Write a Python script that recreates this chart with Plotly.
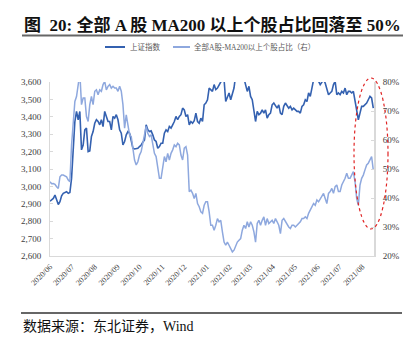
import pandas as pd
import plotly.graph_objects as go

# 上证指数 (left axis), sampled about every 2.3 days, 2020/06 -> 2021/08
sh_index_part1 = [
    2915, 2921, 2931, 2950, 2921, 2896, 2912, 2946, 2960, 2965,
    2969, 2960, 2965, 3046, 3238, 3373, 3431, 3383, 3431, 3210,
    3238, 3325, 3335, 3200, 3204, 3287, 3315, 3363, 3383, 3373,
    3354, 3383, 3344, 3431, 3402, 3373, 3373, 3325, 3402, 3392,
    3412, 3383, 3325, 3306, 3238, 3258, 3296, 3315, 3306, 3267,
    3219, 3215, 3217, 3219, 3229, 3238, 3254, 3267, 3354, 3325,
    3315, 3319, 3296, 3267, 3258, 3219, 3229, 3248, 3248, 3306,
    3325, 3315, 3344, 3335, 3354, 3373, 3402, 3383, 3402, 3412,
    3450, 3440, 3402, 3412, 3354, 3373, 3363, 3377, 3421, 3373,
    3363, 3392, 3373, 3469, 3479, 3498, 3565, 3556,
]
sh_index_part2 = [
    3546, 3585, 3556, 3565, 3585, 3600, 3613, 3613, 3488, 3508,
    3537, 3498, 3527, 3565, 3640, 3670, 3690, 3696, 3660, 3620,
    3575, 3546, 3575, 3517, 3498, 3431, 3373, 3431, 3412, 3421,
    3440, 3421, 3440, 3392, 3412, 3421, 3469, 3479, 3460, 3450,
    3469, 3421, 3412, 3460, 3479, 3460, 3450, 3460, 3440, 3450,
    3440, 3431, 3431, 3421, 3460, 3469, 3498, 3488, 3537, 3517,
    3565, 3613, 3623, 3613, 3604, 3585, 3604, 3613, 3594, 3565,
    3527, 3537, 3546, 3585, 3604, 3527, 3537, 3527, 3546, 3537,
    3565, 3527, 3546, 3546, 3537, 3546, 3488, 3431, 3383, 3421,
    3460, 3460, 3469, 3479, 3498, 3517, 3508, 3450,
]
# 全部A股-MA200以上个股占比 (right axis, %)
ratio_part1 = [
    45.6, 44.9, 45.0, 44.7, 43.9, 43.3, 47.3, 47.9, 47.9, 47.7,
    47.3, 46.2, 45.6, 58.3, 66.4, 73.3, 75.0, 80.2, 83.0, 72.2,
    74.5, 74.5, 68.1, 66.4, 72.2, 75.0, 72.2, 76.8, 77.3, 75.6,
    77.3, 76.8, 79.1, 80.2, 77.3, 78.5, 79.1, 77.9, 78.5, 77.9,
    77.9, 76.8, 78.5, 76.8, 72.2, 64.1, 68.7, 65.2, 61.8, 61.2,
    56.6, 53.1, 51.4, 52.5, 54.8, 56.0, 58.9, 61.8, 64.7, 62.3,
    61.2, 61.8, 58.3, 55.4, 54.3, 50.2, 46.8, 46.8, 51.4, 54.3,
    52.5, 55.4, 53.1, 55.4, 56.6, 58.3, 57.7, 58.9, 58.3, 54.8,
    53.1, 57.2, 57.7, 54.8, 42.2, 42.7, 41.6, 39.8, 41.6, 38.1,
    37.0, 35.2, 34.7, 37.5, 38.7, 38.7, 35.2, 30.6,
]
ratio_part2 = [
    30.6, 28.9, 30.6, 32.9, 31.8, 32.3, 28.3, 24.8, 23.7, 24.8,
    23.7, 22.5, 21.4, 22.0, 23.7, 24.8, 25.4, 26.0, 28.9, 30.6,
    29.5, 31.8, 30.0, 31.8, 30.6, 28.3, 24.8, 31.2, 32.3, 30.6,
    32.3, 33.5, 30.6, 32.9, 31.2, 31.8, 32.3, 31.2, 32.9, 31.8,
    30.6, 27.7, 32.3, 32.9, 31.8, 30.6, 30.0, 29.5, 30.6, 30.6,
    30.0, 30.6, 31.2, 31.8, 32.9, 32.9, 33.5, 32.9, 34.7, 35.8,
    37.0, 38.1, 37.5, 39.3, 38.7, 39.8, 41.0, 41.6, 39.8, 38.1,
    41.6, 42.2, 43.3, 41.6, 43.9, 44.5, 42.2, 42.2, 44.5, 45.6,
    46.8, 48.5, 46.8, 46.8, 47.9, 49.1, 45.6, 39.8, 37.5, 44.5,
    46.8, 47.9, 49.7, 51.4, 52.0, 53.1, 54.3, 49.7,
]

sh_index = sh_index_part1 + sh_index_part2
ratio_pct = ratio_part1 + ratio_part2
dates = pd.date_range("2020-06-01", "2021-08-16", periods=len(sh_index))

tick_months = pd.date_range("2020-06-01", "2021-08-01", freq="MS")
tick_labels = [d.strftime("%Y/%m") for d in tick_months]

series_names = ["上证指数", "全部A股-MA200以上个股占比（右）"]
title_text = "图  20: 全部 A 股 MA200 以上个股占比回落至 50%"
source_text = "数据来源：东北证券，Wind"

DARK = "#3461B0"
LIGHT = "#8EA8DE"
SERIF = "Liberation Serif, Noto Sans CJK SC"

W, H = 419, 350
ML, MR, MT, MB = 50, 45, 82, 94
PW, PH = W - ML - MR, H - MT - MB


def px(x):
    return (x - ML) / PW


def py(y):
    return (H - MB - y) / PH


fig = go.Figure()
fig.add_trace(go.Scatter(x=dates, y=sh_index, name=series_names[0], mode="lines",
                         line=dict(color=DARK, width=1.6), yaxis="y"))
fig.add_trace(go.Scatter(x=dates, y=ratio_pct, name=series_names[1], mode="lines",
                         line=dict(color=LIGHT, width=1.5), yaxis="y2"))

fig.update_layout(
    width=W, height=H,
    margin=dict(l=ML, r=MR, t=MT, b=MB),
    paper_bgcolor="white", plot_bgcolor="white",
    showlegend=False,
    xaxis=dict(
        type="date",
        range=[dates[0], pd.Timestamp("2021-08-17")],
        tickvals=list(tick_months), ticktext=tick_labels,
        tickangle=-45, tickfont=dict(family=SERIF, size=8, color="#404040"),
        showgrid=False, zeroline=False,
        showline=True, linecolor="#D9D9D9", linewidth=1,
        ticks="", ticklabelstandoff=2,
    ),
    yaxis=dict(
        range=[2600, 3600], dtick=100, tickformat=",d",
        tickfont=dict(family=SERIF, size=9, color="#404040"),
        showgrid=False, zeroline=False,
        showline=True, linecolor="#D9D9D9", linewidth=1,
        ticks="inside", ticklen=3, tickcolor="#D9D9D9",
        ticklabelstandoff=6,
    ),
    yaxis2=dict(
        range=[20, 80], dtick=10, ticksuffix="%",
        overlaying="y", side="right", anchor="x",
        tickfont=dict(family=SERIF, size=9, color="#404040"),
        showgrid=False, zeroline=False,
        showline=True, linecolor="#D9D9D9", linewidth=2,
        ticks="inside", ticklen=3, tickcolor="#D9D9D9",
        ticklabelstandoff=5,
    ),
)

shapes = [
    # title underline
    dict(type="line", xref="paper", yref="paper", x0=px(22), x1=px(403), y0=py(35.5), y1=py(35.5),
         line=dict(color="#666666", width=1.8)),
    # bottom rule above source
    dict(type="line", xref="paper", yref="paper", x0=px(21), x1=px(402), y0=py(313), y1=py(313),
         line=dict(color="#333333", width=1.5)),
    # legend samples
    dict(type="line", xref="paper", yref="paper", x0=px(105), x1=px(125), y0=py(47), y1=py(47),
         line=dict(color=DARK, width=2)),
    dict(type="line", xref="paper", yref="paper", x0=px(173), x1=px(190), y0=py(47), y1=py(47),
         line=dict(color=LIGHT, width=2)),
    # red dashed ellipse
    dict(type="circle", xref="paper", yref="paper", x0=px(354), x1=px(388), y0=py(229), y1=py(78),
         line=dict(color="#E02424", width=1.2, dash="dot"), layer="above"),
]
fig.update_layout(shapes=shapes)

annotations = [
    dict(text=f"<b>{title_text}</b>", x=px(22), y=py(25), xref="paper", yref="paper",
         xanchor="left", yanchor="middle", showarrow=False,
         font=dict(family=SERIF, size=17, color="#111111")),
    dict(text=series_names[0], x=px(128), y=py(47), xref="paper", yref="paper",
         xanchor="left", yanchor="middle", showarrow=False,
         font=dict(family=SERIF, size=7.5, color="#595959")),
    dict(text=series_names[1], x=px(192), y=py(47), xref="paper", yref="paper",
         xanchor="left", yanchor="middle", showarrow=False,
         font=dict(family=SERIF, size=7.5, color="#595959")),
    dict(text=source_text, x=px(21), y=py(326), xref="paper", yref="paper",
         xanchor="left", yanchor="middle", showarrow=False,
         font=dict(family=SERIF, size=14, color="#111111")),
]
fig.update_layout(annotations=annotations)

fig.write_html("out.html")
